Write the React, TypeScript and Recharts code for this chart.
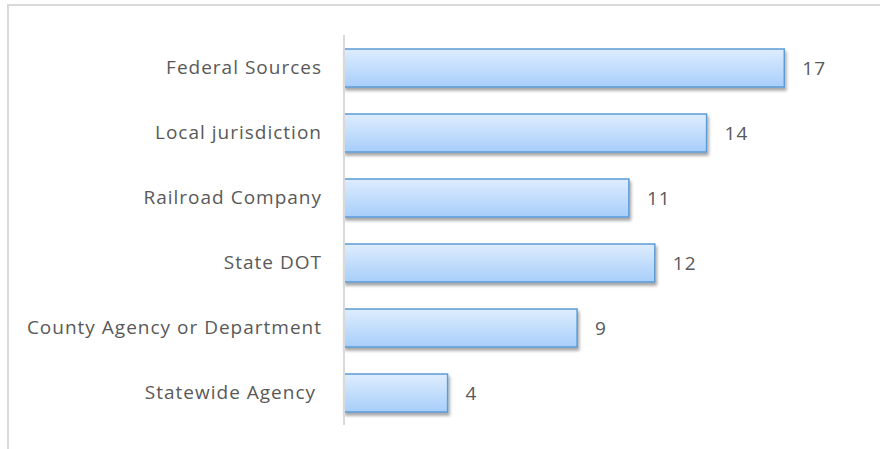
import { BarChart, Bar, XAxis, YAxis, LabelList } from "recharts";

const categories = [
  "Federal Sources",
  "Local jurisdiction",
  "Railroad Company",
  "State DOT",
  "County Agency or Department",
  "Statewide Agency\u00a0",
];
const counts = [17, 14, 11, 12, 9, 4];

const data = categories.map((name, i) => ({ name, count: counts[i] }));

const textColor = "#595959";
const font = "'Open Sans', sans-serif";

const ShadowBar = (props: any) => {
  const { x, y, width, height } = props;
  if (!width || width <= 0) return null;
  return (
    <rect
      x={x}
      y={y}
      width={width}
      height={height}
      fill="url(#barFill)"
      stroke="#5b9bd5"
      strokeWidth={1.5}
      filter="url(#barShadow)"
    />
  );
};

export default function App() {
  return (
    <div
      style={{
        position: "absolute",
        left: 0,
        top: 0,
        width: 880,
        height: 449,
        background: "#fff",
        overflow: "hidden",
      }}
    >
      <div
        style={{
          position: "absolute",
          left: 7,
          top: 4,
          right: 0,
          bottom: 0,
          borderTop: "2px solid #d9d9d9",
          borderLeft: "2px solid #d9d9d9",
        }}
      />
      <BarChart
        width={880}
        height={449}
        data={data}
        layout="vertical"
        margin={{ top: 35, right: 18, bottom: 24, left: 0 }}
        style={{ position: "absolute", left: 0, top: 0 }}
      >
        <defs>
          <linearGradient id="barFill" x1="0" y1="0" x2="0" y2="1">
            <stop offset="0%" stopColor="#deedfe" />
            <stop offset="100%" stopColor="#a7cefa" />
          </linearGradient>
          <filter id="barShadow" x="-10%" y="-30%" width="120%" height="180%">
            <feDropShadow dx="1.5" dy="3" stdDeviation="1.8" floodColor="#000" floodOpacity="0.35" />
          </filter>
        </defs>
        <XAxis type="number" domain={[0, 20]} hide />
        <YAxis
          type="category"
          dataKey="name"
          width={344}
          axisLine={{ stroke: "#d9d9d9", strokeWidth: 2 }}
          tickLine={false}
          tickSize={0}
          tickMargin={22}
          tick={{ fill: textColor, fontSize: 19, fontFamily: font, letterSpacing: 1 }}
          interval={0}
        />
        <Bar
          dataKey="count"
          barSize={38}
          shape={<ShadowBar />}
          isAnimationActive={false}
        >
          <LabelList
            dataKey="count"
            position="right"
            offset={18}
            fill={textColor}
            fontSize={19}
            fontFamily={font}
            letterSpacing={1}
          />
        </Bar>
      </BarChart>
    </div>
  );
}
